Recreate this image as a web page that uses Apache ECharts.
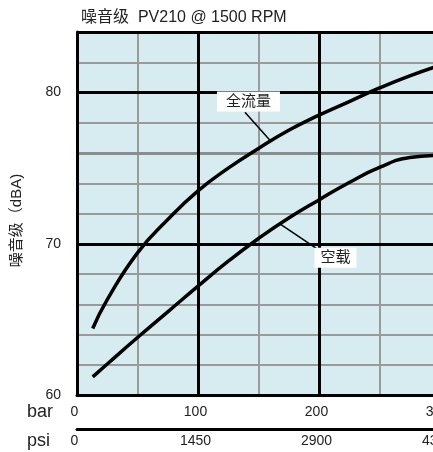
<!DOCTYPE html>
<html><head><meta charset="utf-8">
<script src="https://cdn.jsdelivr.net/npm/echarts@6/dist/echarts.min.js"></script>
<style>html,body{margin:0;padding:0;background:#fff}#c{width:433px;height:452px}</style>
</head><body><div id="c"></div>
<script>
// ---- data ----
const titleText = '噪音级  PV210 @ 1500 RPM';
const yAxisName = '噪音级（dBA)';
const barUnit = 'bar';
const psiUnit = 'psi';
const barTicks = [0, 100, 200, 300];
const psiTicks = [0, 1450, 2900, 4350];
const dbTicks = [60, 70, 80];
const fullFlowName = '全流量';
const noLoadName = '空载';
const fullFlowBar = [13, 25, 50, 75, 100, 125, 150, 175, 200, 225, 250, 275, 300];
const fullFlowDb  = [64.4, 66.3, 69.4, 71.6, 73.5, 75.0, 76.3, 77.5, 78.5, 79.4, 80.3, 81.1, 81.8];
const noLoadBar = [13, 25, 50, 75, 100, 125, 150, 175, 200, 225, 250, 275, 300];
const noLoadDb  = [61.2, 62.05, 63.8, 65.5, 67.2, 68.85, 70.35, 71.7, 72.9, 74.05, 75.05, 75.7, 75.85];
const refLineDb = 76;

// annotation placement (data coordinates)
const fullFlowLabelAt = [141.7, 79.4];
const fullFlowLeader = [[138.8, 78.7], [160, 76.8]];
const noLoadLabelAt = [213.6, 69.07];
const noLoadLeader = [[197.8, 69.7], [168, 71.3]];

const TXT = '#222';
const FONT = 'Liberation Sans, Arial, Noto Sans CJK SC, sans-serif';
const BG = '#d6ecf0';
const GRAY = '#9a9a9a';

const chart = echarts.init(document.getElementById('c'), null, {renderer: 'canvas'});
const xMin = barTicks[0], xMax = barTicks[barTicks.length - 1];
const yMin = dbTicks[0], yMax = 84;

function pairs(xs, ys) { return xs.map((x, i) => [x, ys[i]]); }

const option = {
  backgroundColor: '#fff',
  animation: false,
  textStyle: {fontFamily: FONT},
  title: {
    text: titleText, left: 81, top: 10, padding: 0,
    textStyle: {fontSize: 16, fontWeight: 'normal', color: TXT, fontFamily: FONT}
  },
  grid: {left: 77, top: 32, bottom: 57, right: -7, show: true, backgroundColor: BG, borderWidth: 0,
    containLabel: false, outerBoundsMode: 'none'},
  xAxis: [
    { // minor grid
      type: 'value', min: xMin, max: xMax, interval: 50, position: 'bottom', z: 0,
      axisLine: {show: false}, axisTick: {show: false}, axisLabel: {show: false},
      splitLine: {show: true, lineStyle: {color: GRAY, width: 2}}
    },
    { // major grid + bar labels
      type: 'value', min: xMin, max: xMax, interval: 100, position: 'bottom', z: 2,
      axisLine: {show: true, lineStyle: {color: '#000', width: 3}},
      axisTick: {show: false},
      axisLabel: {show: true, margin: 10, fontSize: 14, color: TXT, fontFamily: FONT,
        padding: [0, 5, 0, 0], formatter: v => String(v)},
      splitLine: {show: true, lineStyle: {color: '#000', width: 3}}
    },
    { // psi scale
      type: 'value', min: psiTicks[0], max: psiTicks[psiTicks.length - 1], interval: psiTicks[1],
      position: 'bottom', offset: 34, z: 2,
      axisLine: {show: true, lineStyle: {color: '#000', width: 3}},
      axisTick: {show: false},
      axisLabel: {show: true, margin: 5, fontSize: 14, color: TXT, fontFamily: FONT,
        padding: [0, 5, 0, 0], formatter: v => String(v)},
      splitLine: {show: false}
    }
  ],
  yAxis: [
    { // major
      type: 'value', min: yMin, max: yMax, interval: 10, position: 'left', z: 2,
      name: yAxisName, nameLocation: 'middle', nameGap: 53, nameRotate: 90,
      nameTextStyle: {fontSize: 15, color: TXT, fontFamily: FONT, padding: [0, 14, 0, 0]},
      axisLine: {show: true, lineStyle: {color: '#000', width: 3}},
      axisTick: {show: false},
      axisLabel: {show: true, margin: 16, fontSize: 14, color: TXT, fontFamily: FONT,
        formatter: v => dbTicks.indexOf(v) >= 0 ? String(v) : ''},
      splitLine: {show: true, lineStyle: {color: '#000', width: 3}}
    },
    { // minor
      type: 'value', min: yMin, max: yMax, interval: 2, position: 'left', z: 0,
      axisLine: {show: false}, axisTick: {show: false}, axisLabel: {show: false},
      splitLine: {show: true, lineStyle: {color: GRAY, width: 2}}
    }
  ],
  graphic: [
    {type: 'text', left: 27, top: 403, z: 10, style: {text: barUnit, fontSize: 18, fill: TXT, fontFamily: FONT}},
    {type: 'text', left: 27, top: 432, z: 10, style: {text: psiUnit, fontSize: 18, fill: TXT, fontFamily: FONT}}
  ],
  series: [
    {
      type: 'line', name: 'ref', data: [], xAxisIndex: 1, yAxisIndex: 0, z: 1, silent: true,
      markLine: {z: 1, silent: true, symbol: 'none', label: {show: false},
        lineStyle: {color: '#8c8c8c', width: 3, type: 'solid'},
        data: [{yAxis: refLineDb}]}
    },
    {
      type: 'line', name: fullFlowName, xAxisIndex: 1, yAxisIndex: 0, z: 3,
      data: pairs(fullFlowBar, fullFlowDb), smooth: 0.5,
      showSymbol: false, symbol: 'none', silent: true,
      lineStyle: {color: '#000', width: 3.5},
      markLine: {z: 4, silent: true, symbol: 'none', label: {show: false},
        lineStyle: {color: '#000', width: 1.5, type: 'solid'},
        data: [[{coord: fullFlowLeader[0]}, {coord: fullFlowLeader[1]}]]},
      markPoint: {z: 5, silent: true, symbol: 'rect', symbolSize: [63, 20],
        itemStyle: {color: '#fff'},
        label: {show: true, position: 'inside', formatter: fullFlowName, fontSize: 15, color: TXT, fontFamily: FONT},
        data: [{coord: fullFlowLabelAt}]}
    },
    {
      type: 'line', name: noLoadName, xAxisIndex: 1, yAxisIndex: 0, z: 3,
      data: pairs(noLoadBar, noLoadDb), smooth: 0.5,
      showSymbol: false, symbol: 'none', silent: true,
      lineStyle: {color: '#000', width: 3.5},
      markLine: {z: 4, silent: true, symbol: 'none', label: {show: false},
        lineStyle: {color: '#000', width: 1.5, type: 'solid'},
        data: [[{coord: noLoadLeader[0]}, {coord: noLoadLeader[1]}]]},
      markPoint: {z: 5, silent: true, symbol: 'rect', symbolSize: [42, 20],
        itemStyle: {color: '#fff'},
        label: {show: true, position: 'inside', formatter: noLoadName, fontSize: 15, color: TXT, fontFamily: FONT},
        data: [{coord: noLoadLabelAt}]}
    }
  ]
};
chart.setOption(option);
</script></body></html>
